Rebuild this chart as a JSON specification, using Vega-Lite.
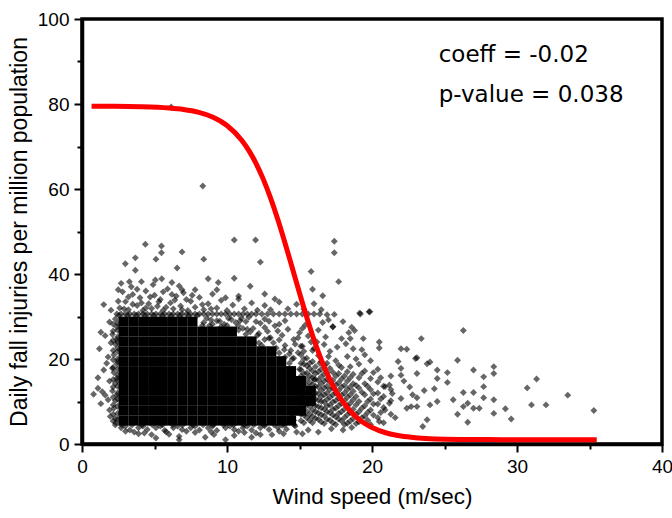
{
"$schema": "https://vega.github.io/schema/vega-lite/v6.json",
"width": 580, "height": 425,
"autosize": "none",
"padding": {"left": 82, "top": 19, "right": 10, "bottom": 74},
"background": "white",
"config": {"view": {"stroke": "black", "strokeWidth": 3.5}},
"datasets": {
"core": [
{"x":2.86,"y":5.5},{"x":2.86,"y":7.83},{"x":2.86,"y":10.16},{"x":2.86,"y":12.49},{"x":2.86,"y":14.82},{"x":2.86,"y":17.15},{"x":2.86,"y":19.48},{"x":2.86,"y":21.81},{"x":2.86,"y":24.14},{"x":2.86,"y":26.47},{"x":2.86,"y":28.8},
{"x":3.54,"y":5.5},{"x":3.54,"y":7.83},{"x":3.54,"y":10.16},{"x":3.54,"y":12.49},{"x":3.54,"y":14.82},{"x":3.54,"y":17.15},{"x":3.54,"y":19.48},{"x":3.54,"y":21.81},{"x":3.54,"y":24.14},{"x":3.54,"y":26.47},{"x":3.54,"y":28.8},
{"x":4.22,"y":5.5},{"x":4.22,"y":7.83},{"x":4.22,"y":10.16},{"x":4.22,"y":12.49},{"x":4.22,"y":14.82},{"x":4.22,"y":17.15},{"x":4.22,"y":19.48},{"x":4.22,"y":21.81},{"x":4.22,"y":24.14},{"x":4.22,"y":26.47},{"x":4.22,"y":28.8},
{"x":4.9,"y":5.5},{"x":4.9,"y":7.83},{"x":4.9,"y":10.16},{"x":4.9,"y":12.49},{"x":4.9,"y":14.82},{"x":4.9,"y":17.15},{"x":4.9,"y":19.48},{"x":4.9,"y":21.81},{"x":4.9,"y":24.14},{"x":4.9,"y":26.47},{"x":4.9,"y":28.8},
{"x":5.58,"y":5.5},{"x":5.58,"y":7.83},{"x":5.58,"y":10.16},{"x":5.58,"y":12.49},{"x":5.58,"y":14.82},{"x":5.58,"y":17.15},{"x":5.58,"y":19.48},{"x":5.58,"y":21.81},{"x":5.58,"y":24.14},{"x":5.58,"y":26.47},{"x":5.58,"y":28.8},
{"x":6.26,"y":5.5},{"x":6.26,"y":7.83},{"x":6.26,"y":10.16},{"x":6.26,"y":12.49},{"x":6.26,"y":14.82},{"x":6.26,"y":17.15},{"x":6.26,"y":19.48},{"x":6.26,"y":21.81},{"x":6.26,"y":24.14},{"x":6.26,"y":26.47},{"x":6.26,"y":28.8},
{"x":6.94,"y":5.5},{"x":6.94,"y":7.83},{"x":6.94,"y":10.16},{"x":6.94,"y":12.49},{"x":6.94,"y":14.82},{"x":6.94,"y":17.15},{"x":6.94,"y":19.48},{"x":6.94,"y":21.81},{"x":6.94,"y":24.14},{"x":6.94,"y":26.47},{"x":6.94,"y":28.8},
{"x":7.62,"y":5.5},{"x":7.62,"y":7.83},{"x":7.62,"y":10.16},{"x":7.62,"y":12.49},{"x":7.62,"y":14.82},{"x":7.62,"y":17.15},{"x":7.62,"y":19.48},{"x":7.62,"y":21.81},{"x":7.62,"y":24.14},{"x":7.62,"y":26.47},{"x":7.62,"y":28.8},
{"x":8.3,"y":5.5},{"x":8.3,"y":7.83},{"x":8.3,"y":10.16},{"x":8.3,"y":12.49},{"x":8.3,"y":14.82},{"x":8.3,"y":17.15},{"x":8.3,"y":19.48},{"x":8.3,"y":21.81},{"x":8.3,"y":24.14},{"x":8.3,"y":26.47},
{"x":8.98,"y":5.5},{"x":8.98,"y":7.83},{"x":8.98,"y":10.16},{"x":8.98,"y":12.49},{"x":8.98,"y":14.82},{"x":8.98,"y":17.15},{"x":8.98,"y":19.48},{"x":8.98,"y":21.81},{"x":8.98,"y":24.14},{"x":8.98,"y":26.47},
{"x":9.66,"y":5.5},{"x":9.66,"y":7.83},{"x":9.66,"y":10.16},{"x":9.66,"y":12.49},{"x":9.66,"y":14.82},{"x":9.66,"y":17.15},{"x":9.66,"y":19.48},{"x":9.66,"y":21.81},{"x":9.66,"y":24.14},{"x":9.66,"y":26.47},
{"x":10.34,"y":5.5},{"x":10.34,"y":7.83},{"x":10.34,"y":10.16},{"x":10.34,"y":12.49},{"x":10.34,"y":14.82},{"x":10.34,"y":17.15},{"x":10.34,"y":19.48},{"x":10.34,"y":21.81},{"x":10.34,"y":24.14},{"x":10.34,"y":26.47},
{"x":11.02,"y":5.5},{"x":11.02,"y":7.83},{"x":11.02,"y":10.16},{"x":11.02,"y":12.49},{"x":11.02,"y":14.82},{"x":11.02,"y":17.15},{"x":11.02,"y":19.48},{"x":11.02,"y":21.81},{"x":11.02,"y":24.14},
{"x":11.7,"y":5.5},{"x":11.7,"y":7.83},{"x":11.7,"y":10.16},{"x":11.7,"y":12.49},{"x":11.7,"y":14.82},{"x":11.7,"y":17.15},{"x":11.7,"y":19.48},{"x":11.7,"y":21.81},{"x":11.7,"y":24.14},
{"x":12.38,"y":5.5},{"x":12.38,"y":7.83},{"x":12.38,"y":10.16},{"x":12.38,"y":12.49},{"x":12.38,"y":14.82},{"x":12.38,"y":17.15},{"x":12.38,"y":19.48},{"x":12.38,"y":21.81},
{"x":13.06,"y":5.5},{"x":13.06,"y":7.83},{"x":13.06,"y":10.16},{"x":13.06,"y":12.49},{"x":13.06,"y":14.82},{"x":13.06,"y":17.15},{"x":13.06,"y":19.48},{"x":13.06,"y":21.81},
{"x":13.74,"y":5.5},{"x":13.74,"y":7.83},{"x":13.74,"y":10.16},{"x":13.74,"y":12.49},{"x":13.74,"y":14.82},{"x":13.74,"y":17.15},{"x":13.74,"y":19.48},
{"x":14.42,"y":5.5},{"x":14.42,"y":7.83},{"x":14.42,"y":10.16},{"x":14.42,"y":12.49},{"x":14.42,"y":14.82},{"x":14.42,"y":17.15},
{"x":15.1,"y":7.83},{"x":15.1,"y":10.16},{"x":15.1,"y":12.49},{"x":15.1,"y":14.82},
{"x":15.78,"y":10.16},{"x":15.78,"y":12.49}
],
"pts": [
{"x":2.4,"y":30.6},{"x":2.7,"y":30.6},{"x":3.0,"y":30.6},{"x":3.3,"y":30.6},{"x":3.6,"y":30.6},{"x":3.9,"y":30.6},{"x":4.2,"y":30.6},{"x":4.5,"y":30.6},{"x":4.8,"y":30.6},{"x":5.1,"y":30.6},{"x":5.4,"y":30.6},{"x":5.7,"y":30.6},{"x":6.0,"y":30.6},{"x":6.3,"y":30.6},{"x":6.6,"y":30.6},{"x":6.9,"y":30.6},{"x":7.2,"y":30.6},{"x":7.5,"y":30.6},{"x":7.8,"y":30.6},{"x":8.1,"y":30.6},{"x":8.4,"y":30.6},{"x":8.7,"y":30.6},{"x":9.0,"y":30.6},{"x":9.3,"y":30.6},{"x":9.6,"y":30.6},{"x":9.9,"y":30.6},{"x":10.2,"y":30.6},{"x":10.5,"y":30.6},{"x":10.8,"y":30.6},{"x":11.1,"y":30.6},{"x":11.4,"y":30.6},{"x":11.7,"y":30.6},{"x":12.0,"y":30.6},
{"x":12.4,"y":30.6},{"x":12.8,"y":30.6},{"x":13.2,"y":30.6},{"x":13.6,"y":30.6},{"x":14.0,"y":30.6},{"x":14.4,"y":30.6},{"x":14.8,"y":30.6},{"x":15.2,"y":30.6},{"x":15.6,"y":30.6},{"x":16.0,"y":30.6},{"x":16.4,"y":30.6},{"x":16.9,"y":30.4},{"x":17.4,"y":30.5},
{"x":2.55,"y":30.3},{"x":3.15,"y":30.3},{"x":3.75,"y":30.3},{"x":4.35,"y":30.3},{"x":4.95,"y":30.3},{"x":5.55,"y":30.3},{"x":6.15,"y":30.3},{"x":6.75,"y":30.3},{"x":7.35,"y":30.3},{"x":7.95,"y":30.3},
{"x":2.3,"y":6.0},{"x":2.2,"y":8.4},{"x":2.3,"y":10.2},{"x":2.1,"y":12.5},{"x":2.3,"y":14.3},{"x":2.2,"y":16.8},{"x":2.4,"y":18.9},{"x":2.2,"y":21.0},{"x":2.3,"y":23.5},{"x":2.1,"y":25.8},{"x":2.4,"y":27.6},{"x":2.3,"y":29.4},{"x":2.35,"y":5.0},{"x":2.4,"y":11.5},{"x":2.4,"y":15.5},{"x":2.45,"y":20.0},{"x":2.4,"y":24.6},
{"x":2.45,"y":5.8},{"x":2.45,"y":7.2},{"x":2.45,"y":8.9},{"x":2.45,"y":10.6},{"x":2.45,"y":12.0},{"x":2.45,"y":13.6},{"x":2.45,"y":15.0},{"x":2.45,"y":16.2},{"x":2.45,"y":17.6},{"x":2.45,"y":19.4},{"x":2.45,"y":21.8},{"x":2.45,"y":22.6},{"x":2.45,"y":24.0},{"x":2.45,"y":25.2},{"x":2.45,"y":26.8},{"x":2.45,"y":28.4},
{"x":2.15,"y":5.4},{"x":2.15,"y":7.0},{"x":2.15,"y":9.2},{"x":2.15,"y":11.0},{"x":2.15,"y":13.4},{"x":2.15,"y":15.2},{"x":2.15,"y":18.0},{"x":2.15,"y":19.8},{"x":2.15,"y":22.0},{"x":2.15,"y":24.4},{"x":2.15,"y":26.6},{"x":2.15,"y":28.2},
{"x":0.8,"y":11.7},{"x":1.1,"y":13.1},{"x":1.2,"y":22.4},{"x":1.3,"y":26.3},{"x":1.6,"y":25.5},{"x":1.9,"y":28.7},{"x":1.1,"y":15.6},{"x":1.5,"y":17.4},{"x":1.8,"y":20.5},{"x":1.6,"y":11.5},{"x":1.4,"y":12.3},{"x":1.8,"y":10.4},{"x":1.95,"y":6.5},{"x":2.3,"y":4.5},{"x":1.9,"y":14.8},{"x":1.7,"y":19.0},{"x":2.0,"y":23.8},{"x":1.3,"y":9.5},{"x":2.0,"y":31.5},{"x":1.5,"y":32.8},{"x":2.1,"y":17.8},{"x":1.9,"y":8.0},
{"x":2.7,"y":3.8},{"x":3.3,"y":3.3},{"x":3.9,"y":3.8},{"x":4.5,"y":3.4},{"x":5.1,"y":3.8},{"x":5.7,"y":3.2},{"x":6.3,"y":3.8},{"x":6.9,"y":3.4},{"x":7.5,"y":3.8},{"x":8.1,"y":3.3},{"x":8.7,"y":3.8},{"x":9.3,"y":3.2},{"x":9.9,"y":3.8},{"x":10.5,"y":3.4},{"x":11.1,"y":3.8},{"x":11.7,"y":3.3},{"x":12.3,"y":3.8},{"x":12.9,"y":3.4},{"x":13.5,"y":3.9},{"x":14.1,"y":3.5},{"x":14.7,"y":4.2},
{"x":3.0,"y":4.2},{"x":4.2,"y":4.2},{"x":5.4,"y":4.2},{"x":6.6,"y":4.2},{"x":7.8,"y":4.2},{"x":9.0,"y":4.2},{"x":10.2,"y":4.2},{"x":11.4,"y":4.2},{"x":12.6,"y":4.3},{"x":13.8,"y":4.4},
{"x":2.75,"y":4.5},{"x":3.45,"y":4.5},{"x":4.15,"y":4.5},{"x":4.85,"y":4.5},{"x":5.55,"y":4.5},{"x":6.25,"y":4.5},{"x":6.95,"y":4.5},{"x":7.65,"y":4.5},{"x":8.35,"y":4.5},{"x":9.05,"y":4.5},{"x":9.75,"y":4.5},{"x":10.45,"y":4.5},{"x":11.15,"y":4.5},{"x":11.85,"y":4.5},{"x":12.55,"y":4.5},{"x":13.25,"y":4.5},{"x":13.95,"y":4.5},{"x":14.65,"y":4.5},
{"x":3.6,"y":2.8},{"x":5.1,"y":1.4},{"x":6.7,"y":1.8},{"x":6.7,"y":1.0},{"x":9.1,"y":2.2},{"x":9.9,"y":1.0},{"x":10.5,"y":2.0},{"x":12.3,"y":2.2},{"x":13.1,"y":2.2},{"x":13.6,"y":3.0},{"x":4.3,"y":2.6},{"x":7.8,"y":2.7},{"x":8.5,"y":1.6},{"x":11.2,"y":2.7},{"x":14.8,"y":2.8},{"x":15.6,"y":3.3},{"x":16.3,"y":2.8},{"x":5.8,"y":2.9},{"x":3.0,"y":3.0},{"x":17.2,"y":3.6},{"x":18.0,"y":3.3},{"x":18.6,"y":3.9},
{"x":3.9,"y":2.4},{"x":6.0,"y":2.3},{"x":7.2,"y":3.0},{"x":8.9,"y":2.9},{"x":10.8,"y":3.0},{"x":12.0,"y":2.6},{"x":13.9,"y":2.4},{"x":15.2,"y":2.4},{"x":4.8,"y":2.2},{"x":11.7,"y":1.6},
{"x":2.6,"y":32.0},{"x":3.0,"y":33.5},{"x":3.2,"y":31.6},{"x":3.5,"y":35.2},{"x":3.8,"y":32.6},{"x":4.0,"y":34.4},{"x":4.2,"y":31.4},{"x":4.4,"y":36.0},{"x":4.6,"y":33.0},{"x":4.8,"y":31.9},{"x":5.0,"y":35.0},{"x":5.2,"y":32.4},{"x":5.4,"y":34.0},{"x":5.6,"y":31.5},{"x":5.9,"y":36.5},{"x":6.1,"y":33.2},{"x":6.3,"y":31.8},{"x":6.5,"y":34.8},{"x":6.8,"y":32.5},{"x":7.0,"y":35.6},{"x":7.3,"y":31.4},{"x":7.5,"y":33.6},{"x":7.8,"y":32.2},{"x":8.1,"y":34.5},{"x":8.4,"y":31.6},{"x":8.7,"y":33.0},{"x":9.0,"y":35.3},{"x":9.3,"y":32.0},{"x":9.6,"y":33.8},{"x":10.0,"y":31.4},{"x":10.4,"y":32.7},{"x":10.8,"y":34.8},{"x":11.2,"y":31.8},{"x":11.7,"y":33.2},{"x":12.1,"y":31.5},{"x":12.6,"y":32.6},{"x":13.0,"y":31.6},{"x":13.6,"y":33.4},{"x":14.2,"y":31.8},{"x":14.8,"y":32.9},{"x":15.3,"y":31.7},{"x":16.0,"y":33.0},{"x":16.5,"y":31.6},{"x":3.4,"y":37.0},{"x":4.9,"y":37.5},{"x":2.8,"y":35.8},{"x":6.7,"y":37.2},
{"x":2.9,"y":31.8},{"x":3.5,"y":32.9},{"x":4.1,"y":33.2},{"x":4.7,"y":34.6},{"x":5.3,"y":33.5},{"x":5.8,"y":32.2},{"x":6.4,"y":33.9},{"x":6.9,"y":31.6},{"x":7.2,"y":34.0},{"x":3.2,"y":34.6},{"x":4.4,"y":32.0},{"x":5.6,"y":35.8},{"x":6.2,"y":35.2},{"x":7.6,"y":35.0},{"x":8.3,"y":32.8},{"x":8.9,"y":31.8},{"x":9.9,"y":34.4},{"x":3.8,"y":36.4},{"x":2.5,"y":33.6},{"x":2.7,"y":37.8},
{"x":4.37,"y":47.0},{"x":5.48,"y":46.6},{"x":5.48,"y":45.0},{"x":10.5,"y":48.0},{"x":11.97,"y":48.0},{"x":17.4,"y":47.7},{"x":17.4,"y":45.0},{"x":6.9,"y":45.2},{"x":2.99,"y":42.4},{"x":3.68,"y":43.8},{"x":5.1,"y":43.5},{"x":8.4,"y":43.5},{"x":12.3,"y":42.8},{"x":3.68,"y":40.9},{"x":6.56,"y":41.4},{"x":15.8,"y":40.6},{"x":17.7,"y":38.2},{"x":8.7,"y":38.9},{"x":10.5,"y":39.0},{"x":9.4,"y":38.0},{"x":2.5,"y":36.3},{"x":3.27,"y":38.2},{"x":4.1,"y":38.2},{"x":5.06,"y":38.6},{"x":5.5,"y":38.9},{"x":6.2,"y":38.0},{"x":11.6,"y":37.1},{"x":12.6,"y":35.3},{"x":15.9,"y":36.4},{"x":16.6,"y":34.9},{"x":10.8,"y":34.1},{"x":9.3,"y":36.3},{"x":7.8,"y":36.3},{"x":6.9,"y":36.3},{"x":13.3,"y":34.1},{"x":19.2,"y":30.6},{"x":19.8,"y":31.1},{"x":6.15,"y":79.3},{"x":8.33,"y":60.7},
{"x":8.4,"y":28.6},{"x":8.8,"y":27.9},{"x":9.3,"y":29.0},{"x":9.8,"y":28.2},{"x":10.3,"y":29.3},{"x":10.8,"y":27.8},{"x":11.3,"y":28.8},{"x":11.8,"y":27.2},{"x":12.3,"y":28.4},{"x":12.8,"y":26.5},{"x":13.3,"y":27.8},{"x":13.8,"y":25.6},{"x":14.2,"y":27.0},{"x":14.6,"y":24.6},{"x":13.0,"y":25.0},{"x":12.2,"y":26.0},{"x":11.6,"y":26.4},{"x":9.6,"y":27.6},{"x":10.6,"y":28.6},{"x":15.0,"y":26.2},{"x":15.4,"y":28.0},{"x":15.8,"y":24.0},{"x":16.3,"y":26.8},{"x":16.8,"y":25.2},{"x":17.3,"y":27.6},{"x":17.0,"y":29.2},{"x":8.6,"y":29.6},{"x":11.0,"y":29.6},{"x":12.6,"y":29.4},{"x":14.0,"y":29.0},{"x":15.2,"y":23.0},{"x":14.9,"y":21.5},{"x":16.0,"y":22.5},
{"x":8.3,"y":27.9},{"x":9.0,"y":28.2},{"x":9.5,"y":28.9},{"x":10.0,"y":27.9},{"x":10.1,"y":29.6},{"x":10.9,"y":29.0},{"x":11.5,"y":29.8},{"x":12.0,"y":28.8},{"x":12.9,"y":28.9},{"x":13.6,"y":28.2},{"x":8.9,"y":29.2},{"x":11.1,"y":27.2},
{"x":15.6,"y":25.4},{"x":16.2,"y":24.0},{"x":17.6,"y":22.8},{"x":18.2,"y":23.6},{"x":17.0,"y":20.6},{"x":16.4,"y":19.0},{"x":18.9,"y":20.0},{"x":19.3,"y":22.2},{"x":14.9,"y":25.0},{"x":13.5,"y":26.6},{"x":12.6,"y":27.4},{"x":15.2,"y":27.2},{"x":16.6,"y":28.6},{"x":18.0,"y":28.8},{"x":18.4,"y":26.2},
{"x":13.2,"y":23.8},{"x":13.6,"y":24.5},{"x":14.0,"y":23.2},{"x":14.4,"y":22.0},{"x":14.5,"y":20.0},{"x":14.3,"y":21.2},{"x":14.7,"y":23.5},{"x":13.4,"y":22.6},{"x":12.9,"y":24.9},{"x":12.1,"y":25.6},{"x":11.4,"y":27.0},{"x":14.6,"y":5.6},{"x":14.2,"y":5.4},{"x":14.5,"y":7.0},
{"x":13.6,"y":21.4},{"x":13.95,"y":22.2},{"x":14.3,"y":19.0},{"x":14.6,"y":20.2},{"x":15.0,"y":17.6},{"x":15.3,"y":16.6},{"x":15.7,"y":14.4},{"x":16.0,"y":15.2},{"x":12.2,"y":23.8},{"x":12.6,"y":24.6},{"x":11.3,"y":25.8},{"x":10.8,"y":26.8},{"x":14.0,"y":20.4},{"x":12.4,"y":23.2},
{"x":15.1,"y":5.5},{"x":15.1,"y":7.0},{"x":15.1,"y":8.5},{"x":15.1,"y":10.0},{"x":15.1,"y":11.5},{"x":15.1,"y":13.0},{"x":15.1,"y":14.5},{"x":15.1,"y":16.0},{"x":15.1,"y":17.5},{"x":15.1,"y":19.0},{"x":15.1,"y":21.0},{"x":15.1,"y":23.0},
{"x":15.5,"y":6.2},{"x":15.5,"y":7.7},{"x":15.5,"y":9.2},{"x":15.5,"y":10.7},{"x":15.5,"y":12.2},{"x":15.5,"y":13.7},{"x":15.5,"y":15.2},{"x":15.5,"y":16.7},{"x":15.5,"y":18.4},{"x":15.5,"y":20.2},
{"x":15.9,"y":5.0},{"x":15.9,"y":6.5},{"x":15.9,"y":8.0},{"x":15.9,"y":9.5},{"x":15.9,"y":11.0},{"x":15.9,"y":12.5},{"x":15.9,"y":14.0},{"x":15.9,"y":15.6},{"x":15.9,"y":17.2},{"x":15.9,"y":19.4},{"x":15.9,"y":22.0},
{"x":16.3,"y":5.8},{"x":16.3,"y":7.3},{"x":16.3,"y":8.8},{"x":16.3,"y":10.3},{"x":16.3,"y":11.8},{"x":16.3,"y":13.4},{"x":16.3,"y":15.0},{"x":16.3,"y":17.0},{"x":16.3,"y":20.8},
{"x":16.7,"y":4.8},{"x":16.7,"y":6.6},{"x":16.7,"y":8.2},{"x":16.7,"y":9.9},{"x":16.7,"y":11.6},{"x":16.7,"y":13.2},{"x":16.7,"y":14.8},{"x":16.7,"y":16.5},{"x":16.7,"y":18.6},{"x":16.7,"y":23.4},
{"x":17.1,"y":5.6},{"x":17.1,"y":7.4},{"x":17.1,"y":9.2},{"x":17.1,"y":11.0},{"x":17.1,"y":12.8},{"x":17.1,"y":14.6},{"x":17.1,"y":17.8},{"x":17.1,"y":21.8},
{"x":17.5,"y":4.6},{"x":17.5,"y":6.4},{"x":17.5,"y":8.4},{"x":17.5,"y":10.2},{"x":17.5,"y":12.0},{"x":17.5,"y":13.9},{"x":17.5,"y":16.0},{"x":17.5,"y":19.6},
{"x":17.9,"y":5.4},{"x":17.9,"y":7.6},{"x":17.9,"y":9.6},{"x":17.9,"y":11.5},{"x":17.9,"y":13.4},{"x":17.9,"y":15.3},{"x":17.9,"y":18.0},{"x":17.9,"y":24.8},
{"x":18.3,"y":4.9},{"x":18.3,"y":6.9},{"x":18.3,"y":9.0},{"x":18.3,"y":11.0},{"x":18.3,"y":12.8},{"x":18.3,"y":14.8},{"x":18.3,"y":17.0},{"x":18.3,"y":20.6},
{"x":18.7,"y":6.0},{"x":18.7,"y":8.2},{"x":18.7,"y":10.4},{"x":18.7,"y":12.4},{"x":18.7,"y":14.2},{"x":18.7,"y":16.4},{"x":18.7,"y":22.4},
{"x":19.1,"y":5.2},{"x":19.1,"y":7.6},{"x":19.1,"y":10.0},{"x":19.1,"y":13.2},{"x":19.1,"y":15.6},{"x":19.1,"y":18.8},
{"x":19.5,"y":6.6},{"x":19.5,"y":9.0},{"x":19.5,"y":11.6},{"x":19.5,"y":14.2},{"x":19.5,"y":17.2},{"x":19.5,"y":21.0},
{"x":19.9,"y":4.6},{"x":19.9,"y":8.0},{"x":19.9,"y":10.6},{"x":19.9,"y":12.8},{"x":19.9,"y":15.4},{"x":19.9,"y":19.6},
{"x":20.4,"y":6.2},{"x":20.4,"y":9.4},{"x":20.4,"y":12.0},{"x":20.4,"y":14.6},{"x":20.4,"y":17.6},
{"x":20.8,"y":5.0},{"x":20.8,"y":8.6},{"x":20.8,"y":11.2},{"x":20.8,"y":13.6},
{"x":21.3,"y":7.0},{"x":21.3,"y":10.2},{"x":21.3,"y":12.8},{"x":21.3,"y":16.0},
{"x":15.3,"y":5.0},{"x":15.3,"y":6.8},{"x":15.3,"y":18.8},{"x":15.3,"y":20.0},{"x":15.3,"y":21.8},
{"x":15.7,"y":5.6},{"x":15.7,"y":7.0},{"x":15.7,"y":8.8},{"x":15.7,"y":16.0},{"x":15.7,"y":17.8},{"x":15.7,"y":19.0},
{"x":16.1,"y":6.0},{"x":16.1,"y":7.6},{"x":16.1,"y":9.0},{"x":16.1,"y":10.6},{"x":16.1,"y":12.0},{"x":16.1,"y":13.6},{"x":16.1,"y":15.2},{"x":16.1,"y":16.6},{"x":16.1,"y":18.2},
{"x":16.5,"y":5.2},{"x":16.5,"y":6.9},{"x":16.5,"y":8.5},{"x":16.5,"y":10.0},{"x":16.5,"y":11.2},{"x":16.5,"y":12.6},{"x":16.5,"y":14.2},{"x":16.5,"y":15.8},{"x":16.5,"y":17.6},{"x":16.5,"y":19.4},
{"x":16.9,"y":5.8},{"x":16.9,"y":7.6},{"x":16.9,"y":9.0},{"x":16.9,"y":10.5},{"x":16.9,"y":12.0},{"x":16.9,"y":13.6},{"x":16.9,"y":15.3},{"x":16.9,"y":16.8},{"x":16.9,"y":19.0},
{"x":17.3,"y":5.0},{"x":17.3,"y":6.8},{"x":17.3,"y":8.2},{"x":17.3,"y":9.9},{"x":17.3,"y":11.6},{"x":17.3,"y":13.2},{"x":17.3,"y":15.0},{"x":17.3,"y":16.9},
{"x":17.7,"y":5.9},{"x":17.7,"y":7.2},{"x":17.7,"y":9.0},{"x":17.7,"y":10.8},{"x":17.7,"y":12.6},{"x":17.7,"y":14.4},{"x":17.7,"y":16.6},{"x":17.7,"y":18.6},
{"x":18.1,"y":4.6},{"x":18.1,"y":6.2},{"x":18.1,"y":8.2},{"x":18.1,"y":10.2},{"x":18.1,"y":12.0},{"x":18.1,"y":13.8},{"x":18.1,"y":16.0},
{"x":18.5,"y":5.4},{"x":18.5,"y":7.4},{"x":18.5,"y":9.6},{"x":18.5,"y":11.6},{"x":18.5,"y":13.4},{"x":18.5,"y":15.6},{"x":18.5,"y":18.2},
{"x":18.9,"y":4.8},{"x":18.9,"y":7.0},{"x":18.9,"y":9.2},{"x":18.9,"y":11.2},{"x":18.9,"y":13.8},
{"x":19.3,"y":6.2},{"x":19.3,"y":8.4},{"x":19.3,"y":12.2},{"x":19.3,"y":16.6},
{"x":19.7,"y":5.6},{"x":19.7,"y":7.4},{"x":19.7,"y":10.0},{"x":19.7,"y":13.6},
{"x":20.1,"y":6.8},{"x":20.1,"y":9.4},{"x":20.1,"y":11.8},{"x":20.1,"y":16.8},
{"x":20.6,"y":7.4},{"x":20.6,"y":10.6},{"x":20.6,"y":15.6},
{"x":19.15,"y":30.8},{"x":19.85,"y":31.1},{"x":17.3,"y":27.6},{"x":18.6,"y":27.5},{"x":18.8,"y":26.7},{"x":26.3,"y":26.7},{"x":23.4,"y":24.8},{"x":19.4,"y":24.8},{"x":18.5,"y":24.8},{"x":20.5,"y":24.0},{"x":20.5,"y":22.6},{"x":22.0,"y":22.4},{"x":22.4,"y":22.3},{"x":23.1,"y":20.3},{"x":23.8,"y":18.9},{"x":24.0,"y":19.3},{"x":25.9,"y":19.7},{"x":28.4,"y":18.2},{"x":27.0,"y":17.4},{"x":28.4,"y":16.6},{"x":27.7,"y":15.8},{"x":25.2,"y":16.8},{"x":24.5,"y":17.4},{"x":24.5,"y":15.4},{"x":25.2,"y":14.5},{"x":23.1,"y":16.6},{"x":22.0,"y":16.2},{"x":31.35,"y":15.3},{"x":30.7,"y":13.2},{"x":27.7,"y":13.5},{"x":26.3,"y":12.1},{"x":27.0,"y":12.1},{"x":33.5,"y":11.5},{"x":28.4,"y":10.4},{"x":27.7,"y":10.9},{"x":26.6,"y":9.6},{"x":26.3,"y":8.8},{"x":25.9,"y":7.0},{"x":27.0,"y":8.4},{"x":27.4,"y":8.4},{"x":25.6,"y":10.4},{"x":24.5,"y":10.0},{"x":24.0,"y":9.2},{"x":23.1,"y":10.9},{"x":31.0,"y":9.2},{"x":32.0,"y":9.2},{"x":29.2,"y":8.3},{"x":29.6,"y":5.9},{"x":28.4,"y":7.2},{"x":26.6,"y":5.1},{"x":35.3,"y":7.9},{"x":23.5,"y":4.1},{"x":23.8,"y":5.7},{"x":20.5,"y":5.3},{"x":21.6,"y":6.2},{"x":22.4,"y":8.4},{"x":23.1,"y":8.8},{"x":20.9,"y":13.5},{"x":21.2,"y":13.9},{"x":22.0,"y":17.8},{"x":21.4,"y":11.9},{"x":22.0,"y":10.7},{"x":22.7,"y":8.8},{"x":20.9,"y":8.0},{"x":21.2,"y":9.6},{"x":22.6,"y":13.4},{"x":23.6,"y":12.6},{"x":22.2,"y":14.8},{"x":21.8,"y":19.4},{"x":24.3,"y":13.0},{"x":22.8,"y":11.6},{"x":23.0,"y":20.1}
],
"fit": [
{"x":0.66,"y":79.48},{"x":2,"y":79.46},{"x":4,"y":79.37},{"x":6,"y":79.07},{"x":7,"y":78.72},{"x":8,"y":78.09},{"x":9,"y":76.94},{"x":10,"y":74.95},{"x":11,"y":71.53},{"x":11.5,"y":69.08},{"x":12,"y":66.04},{"x":12.5,"y":62.33},{"x":13,"y":57.93},{"x":13.5,"y":52.88},{"x":14,"y":47.31},{"x":14.5,"y":41.46},{"x":15,"y":35.52},{"x":15.5,"y":29.81},{"x":16,"y":24.53},{"x":16.5,"y":19.87},{"x":17,"y":15.86},{"x":17.5,"y":12.53},{"x":18,"y":9.87},{"x":18.5,"y":7.77},{"x":19,"y":6.1},{"x":19.5,"y":4.83},{"x":20,"y":3.88},{"x":21,"y":2.59},{"x":22,"y":1.88},{"x":23,"y":1.48},{"x":24,"y":1.26},{"x":25,"y":1.14},{"x":26,"y":1.08},{"x":28,"y":1.03},{"x":30,"y":1.01},{"x":32,"y":1.0},{"x":35.5,"y":1.0}
],
"note": [
{"t":"coeff = -0.02","x":24.6,"y":89.9},
{"t":"p-value = 0.038","x":24.6,"y":80.5}
]
},
"encoding": {
"x": {"field":"x","type":"quantitative","scale":{"domain":[0,40],"nice":false,"zero":false},
 "axis":{"title":"Wind speed (m/sec)","values":[0,5,10,15,20,25,30,35,40],
 "labelExpr":"datum.value % 10 === 0 ? datum.label : ''",
 "tickSize":{"condition":{"test":"datum.value % 10 === 0","value":8},"value":5},
 "tickWidth":2,"tickColor":"black","domainColor":"black","domainWidth":3.5,"grid":false,
 "labelFont":"Liberation Sans","labelFontSize":19,"labelColor":"black","labelPadding":5,"labelFlush":false,"labelOverlap":false,
 "titleFont":"Liberation Sans","titleFontSize":22.5,"titleFontWeight":"normal","titleColor":"black","titlePadding":9}},
"y": {"field":"y","type":"quantitative","scale":{"domain":[0,100],"nice":false,"zero":false},
 "axis":{"title":"Daily fall injuries per million population","values":[0,10,20,30,40,50,60,70,80,90,100],
 "labelExpr":"datum.value % 20 === 0 ? datum.label : ''",
 "tickSize":{"condition":{"test":"datum.value % 20 === 0","value":8},"value":5},
 "tickWidth":2,"tickColor":"black","domainColor":"black","domainWidth":3.5,"grid":false,
 "labelFont":"Liberation Sans","labelFontSize":19,"labelColor":"black","labelPadding":5,"labelFlush":false,"labelOverlap":false,
 "titleFont":"Liberation Sans","titleFontSize":23,"titleFontWeight":"normal","titleColor":"black","titlePadding":6}}
},
"layer": [
{"data":{"name":"core"},"mark":{"type":"point","shape":"square","filled":true,"size":100,"color":"#000","opacity":1,"strokeWidth":0}},
{"data":{"name":"pts"},"mark":{"type":"point","shape":"diamond","filled":true,"size":48,"color":"#000","opacity":0.6,"strokeWidth":0}},
{"data":{"name":"fit"},"mark":{"type":"line","color":"#ff0000","strokeWidth":5,"interpolate":"monotone"}},
{"data":{"name":"note"},"mark":{"type":"text","align":"left","baseline":"alphabetic","font":"DejaVu Sans","fontSize":23,"color":"black"},"encoding":{"text":{"field":"t","type":"nominal"}}}
]
}
